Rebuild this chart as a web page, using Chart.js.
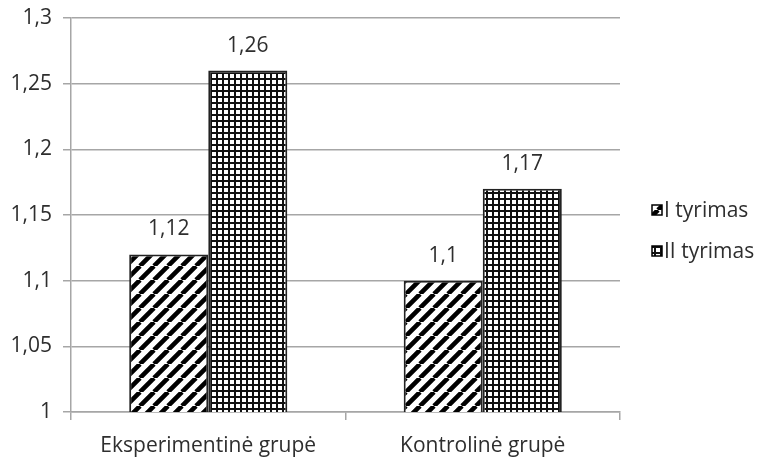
<!DOCTYPE html>
<html>
<head>
<meta charset="utf-8">
<script src="https://cdn.jsdelivr.net/npm/chart.js@4/dist/chart.umd.min.js"></script>
<style>
  html, body { margin: 0; padding: 0; background: #fff; }
  #wrap { width: 764px; height: 461px; }
</style>
</head>
<body>
<div id="wrap"><canvas id="c" width="764" height="461"></canvas></div>
<script>
// Group averages for the two measurements
const categories = ['Eksperimentinė grupė', 'Kontrolinė grupė'];
const seriesNames = ['I tyrimas', 'II tyrimas'];
const tyrimas1 = [1.12, 1.10];
const tyrimas2 = [1.26, 1.17];
const yMin = 1, yMax = 1.3, yStep = 0.05;

const FONT = '"Open Sans", "DejaVu Sans", sans-serif';
const FSIZE = 21;
const TEXT = '#2e2e2e';
const GRID = '#a6a6a6';

function fmt(v) {
  return String(Math.round(v * 100) / 100).replace('.', ',');
}

// Diagonal stripe fill "/"
function stripePattern() {
  const s = 14;
  const c = document.createElement('canvas');
  c.width = s; c.height = s;
  const g = c.getContext('2d');
  g.fillStyle = '#fff';
  g.fillRect(0, 0, s, s);
  g.strokeStyle = '#000';
  g.lineWidth = 4.6;
  g.beginPath();
  for (const o of [-s, 0, s]) {
    g.moveTo(o, s);
    g.lineTo(o + s, 0);
  }
  g.stroke();
  return g.createPattern(c, 'repeat');
}

// Small square grid fill
function gridPattern() {
  const s = 6;
  const c = document.createElement('canvas');
  c.width = s; c.height = s;
  const g = c.getContext('2d');
  g.fillStyle = '#fff';
  g.fillRect(0, 0, s, s);
  g.fillStyle = '#111';
  g.fillRect(0, 0, s, 2);
  g.fillRect(0, 0, 2, s);
  return g.createPattern(c, 'repeat');
}

const fills = [stripePattern(), gridPattern()];

// Value labels above each bar
const valueLabels = {
  id: 'valueLabels',
  afterDatasetsDraw(chart) {
    const ctx = chart.ctx;
    ctx.save();
    ctx.font = FSIZE + 'px ' + FONT;
    ctx.fillStyle = TEXT;
    ctx.textAlign = 'center';
    ctx.textBaseline = 'middle';
    chart.data.datasets.forEach((ds, di) => {
      const meta = chart.getDatasetMeta(di);
      meta.data.forEach((bar, i) => {
        ctx.fillText(fmt(ds.data[i]), bar.x, bar.y - 25);
      });
    });
    ctx.restore();
  }
};

// Legend to the right of the plot
const sideLegend = {
  id: 'sideLegend',
  afterDraw(chart) {
    const ctx = chart.ctx;
    const x0 = chart.chartArea.right + 32;
    const yc = (chart.chartArea.top + chart.chartArea.bottom) / 2;
    const rows = [yc - 5, yc + 36];
    ctx.save();
    ctx.font = FSIZE + 'px ' + FONT;
    ctx.textBaseline = 'middle';
    ctx.textAlign = 'left';
    chart.data.datasets.forEach((ds, i) => {
      const y = rows[i];
      ctx.fillStyle = ds.backgroundColor;
      ctx.fillRect(x0, y - 5, 10, 10);
      ctx.strokeStyle = '#000';
      ctx.lineWidth = 1.5;
      ctx.strokeRect(x0, y - 5, 10, 10);
      ctx.fillStyle = TEXT;
      ctx.fillText(ds.label, x0 + 12, y + 1);
    });
    ctx.restore();
  }
};

new Chart(document.getElementById('c'), {
  type: 'bar',
  data: {
    labels: categories,
    datasets: [
      { label: seriesNames[0], data: tyrimas1, backgroundColor: fills[0] },
      { label: seriesNames[1], data: tyrimas2, backgroundColor: fills[1] }
    ]
  },
  options: {
    responsive: false,
    animation: false,
    devicePixelRatio: 1,
    layout: { padding: { top: 0, right: 144, bottom: 0, left: 0 } },
    datasets: {
      bar: {
        borderColor: '#222',
        borderWidth: 2,
        borderSkipped: 'bottom',
        categoryPercentage: 0.576,
        barPercentage: 1
      }
    },
    plugins: {
      legend: { display: false },
      tooltip: { enabled: false }
    },
    scales: {
      x: {
        grid: {
          display: true,
          drawOnChartArea: false,
          drawTicks: true,
          tickLength: 8,
          color: GRID,
          lineWidth: 1.5
        },
        border: { color: GRID, width: 1.5 },
        ticks: { color: TEXT, font: { family: FONT, size: FSIZE }, padding: 13, maxRotation: 0 },
        afterFit(s) { s.height = 49; s.paddingLeft = 0; s.paddingRight = 0; }
      },
      y: {
        min: yMin,
        max: yMax,
        grid: { color: GRID, lineWidth: 1.5, tickLength: 8 },
        border: { color: GRID, width: 1.5 },
        ticks: {
          stepSize: yStep,
          color: TEXT,
          font: { family: FONT, size: FSIZE },
          padding: 11,
          callback: (v) => fmt(v)
        },
        afterFit(s) { s.width = 71; s.paddingTop = 18; s.paddingBottom = 0; }
      }
    }
  },
  plugins: [valueLabels, sideLegend]
});
</script>
</body>
</html>
